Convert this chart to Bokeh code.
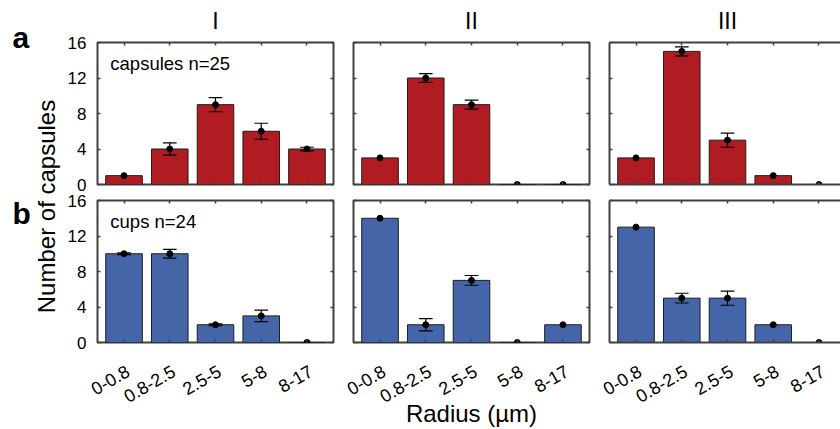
import math
from bokeh.plotting import figure
from bokeh.models import Range1d, LinearAxis, FixedTicker
from bokeh.models import ColumnDataSource
from bokeh.core.properties import value
from bokeh.layouts import row, column
from bokeh.embed import file_html
from bokeh.resources import INLINE

# ---------------- data ----------------
radius_bins = ["0-0.8", "0.8-2.5", "2.5-5", "5-8", "8-17"]
group_titles = ["I", "II", "III"]

capsules_I = [1, 4, 9, 6, 4]
capsules_II = [3, 12, 9, 0, 0]
capsules_III = [3, 15, 5, 1, 0]
capsules_err_I = [0, 0.7, 0.8, 0.9, 0.2]
capsules_err_II = [0, 0.5, 0.5, 0, 0]
capsules_err_III = [0, 0.5, 0.8, 0, 0]

cups_I = [10, 10, 2, 3, 0]
cups_II = [14, 2, 7, 0, 2]
cups_III = [13, 5, 5, 2, 0]
cups_err_I = [0.1, 0.5, 0.1, 0.65, 0]
cups_err_II = [0, 0.7, 0.55, 0, 0]
cups_err_III = [0, 0.55, 0.8, 0, 0]

y_ticks = [0, 4, 8, 12, 16]
Y_MAX = 16

# ---------------- style / layout ----------------
FONT = "Liberation Sans"
DARK = "#404040"
RED = "#B11B22"
BLUE = "#4466A8"
EDGE = "#1e1e1e"

TOTAL_W, TOTAL_H = 840, 429
STRIP_W = 87
TITLE_H = 40
FRAME_H = 142
COL_FRAME_W = [236, 236, 231]
COL_BORDER_L = [10, 10, 10]
COL_BORDER_R = [10, 10, 0]
ROW_BORDER_T = [2, 8]
ROW_BORDER_B = [8, 2]
X_START, X_END_FULL = 0.42, 5.58
PPX = COL_FRAME_W[0] / (X_END_FULL - X_START)
X_END = [X_START + w / PPX for w in COL_FRAME_W]
BOTTOM_H = TOTAL_H - (TITLE_H + sum(ROW_BORDER_T) + sum(ROW_BORDER_B) + 2 * FRAME_H)

x_ranges = [Range1d(X_START, X_END[i]) for i in range(3)]
xs = list(range(1, len(radius_bins) + 1))


def bare(p):
    p.xgrid.visible = False
    p.ygrid.visible = False
    return p


def style_axis(ax):
    ax.axis_line_color = None
    ax.major_tick_in = 3
    ax.major_tick_out = 0
    ax.minor_tick_in = 0
    ax.minor_tick_out = 0
    ax.major_tick_line_color = DARK
    ax.major_tick_line_width = 1.5
    ax.major_label_text_font_size = "0px"
    ax.major_label_text_color = None
    ax.major_label_standoff = 0


def make_title(ci):
    t = bare(figure(frame_width=COL_FRAME_W[ci], frame_height=TITLE_H,
                    x_range=x_ranges[ci], y_range=Range1d(TITLE_H, 0),
                    x_axis_location=None, y_axis_location=None,
                    output_backend="svg", toolbar_location=None,
                    min_border_left=COL_BORDER_L[ci], min_border_right=COL_BORDER_R[ci],
                    min_border_top=0, min_border_bottom=0, outline_line_color=None))
    t.text(x=[3], y=[20], text=[group_titles[ci]], text_align="center",
           text_baseline="middle", text_font=value(FONT),
           text_font_size="23px", text_color="black")
    return t


def make_panel(vals, errs, color, ci, ri, note=None):
    p = bare(figure(frame_width=COL_FRAME_W[ci], frame_height=FRAME_H,
                    x_range=x_ranges[ci], y_range=Range1d(0, Y_MAX),
                    x_axis_location=None, y_axis_location=None,
                    output_backend="svg", toolbar_location=None,
                    min_border_left=COL_BORDER_L[ci], min_border_right=COL_BORDER_R[ci],
                    min_border_top=ROW_BORDER_T[ri], min_border_bottom=ROW_BORDER_B[ri],
                    background_fill_color="white", border_fill_color="white"))
    last = ci == 2
    if last:
        p.outline_line_color = None
    else:
        p.outline_line_color = DARK
        p.outline_line_width = 2

    p.vbar(x=xs, top=vals, width=0.8, bottom=0, fill_color=color,
           line_color=EDGE, line_width=1)

    ex, lo, hi = [], [], []
    for x, v, e in zip(xs, vals, errs):
        if e > 0:
            ex.append(x)
            lo.append(v - e)
            hi.append(v + e)
    if ex:
        src = ColumnDataSource(dict(x=ex, lo=lo, hi=hi,
                                    x0=[x - 0.15 for x in ex], x1=[x + 0.15 for x in ex]))
        p.segment(x0="x", y0="lo", x1="x", y1="hi", source=src, line_color="black", line_width=1.2)
        p.segment(x0="x0", y0="hi", x1="x1", y1="hi", source=src, line_color="black", line_width=1.2)
        p.segment(x0="x0", y0="lo", x1="x1", y1="lo", source=src, line_color="black", line_width=1.2)
    p.scatter(x=xs, y=vals, size=6, color="black")

    xt = FixedTicker(ticks=xs, minor_ticks=[])
    yt = FixedTicker(ticks=y_ticks, minor_ticks=[])
    sides = [("left", yt), ("above", xt), ("below", xt)]
    if not last:
        sides.append(("right", yt))
    for side, tk in sides:
        ax = LinearAxis(ticker=tk)
        style_axis(ax)
        if last:
            ax.axis_line_color = DARK
            ax.axis_line_width = 2
        p.add_layout(ax, side)

    if note:
        p.text(x=[0.70], y=[13.6], text=[note], text_align="left",
               text_baseline="middle", text_font=value(FONT),
               text_font_size="18.5px", text_color="black")
    return p


top_vals = [capsules_I, capsules_II, capsules_III]
top_errs = [capsules_err_I, capsules_err_II, capsules_err_III]
bot_vals = [cups_I, cups_II, cups_III]
bot_errs = [cups_err_I, cups_err_II, cups_err_III]

titles = [make_title(i) for i in range(3)]
row_a = [make_panel(top_vals[i], top_errs[i], RED, i, 0,
                    note="capsules n=25" if i == 0 else None) for i in range(3)]
row_b = [make_panel(bot_vals[i], bot_errs[i], BLUE, i, 1,
                    note="cups n=24" if i == 0 else None) for i in range(3)]

# ---- bottom strip: x tick labels of row b and the x-axis title ----
BW = TOTAL_W - STRIP_W
bs = bare(figure(width=BW, height=BOTTOM_H, x_range=Range1d(0, BW),
                 y_range=Range1d(BOTTOM_H, 0),
                 x_axis_location=None, y_axis_location=None,
                 output_backend="svg", toolbar_location=None,
                 min_border=0, outline_line_color=None))
col_left = []
acc = 0
for ci in range(3):
    col_left.append(acc + COL_BORDER_L[ci])
    acc += COL_BORDER_L[ci] + COL_FRAME_W[ci] + COL_BORDER_R[ci]
bs.extra_x_ranges = {
    f"c{ci}": Range1d(X_START - col_left[ci] / PPX, X_START + (BW - col_left[ci]) / PPX)
    for ci in range(3)
}
for ci in range(3):
    bs.text(x=xs, y=[25] * len(xs), text=radius_bins, x_range_name=f"c{ci}",
            angle=math.radians(30), x_offset=4, text_align="right", text_baseline="middle",
            text_font=value(FONT), text_font_size="18px", text_color="black")
bs.text(x=[3], y=[69], text=["Radius (\u00b5m)"], x_range_name="c1",
        text_align="center", text_baseline="middle",
        text_font=value(FONT), text_font_size="24px", text_color="black")

# ---- left strip: panel letters, shared y label, y tick labels of both rows ----
ppu = FRAME_H / Y_MAX
fb_a = TITLE_H + ROW_BORDER_T[0] + FRAME_H
fb_b = fb_a + ROW_BORDER_B[0] + ROW_BORDER_T[1] + FRAME_H
lf = bare(figure(width=STRIP_W, height=TOTAL_H, x_range=Range1d(0, STRIP_W),
                 y_range=Range1d(TOTAL_H, 0),
                 x_axis_location=None, y_axis_location=None,
                 output_backend="svg", toolbar_location=None,
                 min_border=0, outline_line_color=None))
lf.extra_y_ranges = {
    "rowa": Range1d((fb_a - TOTAL_H) / ppu, fb_a / ppu),
    "rowb": Range1d((fb_b - TOTAL_H) / ppu, fb_b / ppu),
}
for rng in ["rowa", "rowb"]:
    lf.text(x=[STRIP_W - 1] * len(y_ticks), y=y_ticks, text=[str(t) for t in y_ticks],
            y_range_name=rng, text_align="right", text_baseline="middle",
            text_font=value(FONT), text_font_size="17px", text_color="black")
lf.text(x=[12, 12], y=[36.5, 212.5], text=["a", "b"], text_baseline="middle",
        text_font=value(FONT), text_font_size="30px", text_font_style="bold",
        text_color="black")
lf.text(x=[46], y=[206], text=["Number of capsules"], angle=math.pi / 2,
        text_align="center", text_baseline="middle", text_font=value(FONT),
        text_font_size="24px", text_color="black")

layout = row(lf, column(row(*titles), row(*row_a), row(*row_b), bs))
open("out.html", "w").write(file_html(layout, INLINE))
